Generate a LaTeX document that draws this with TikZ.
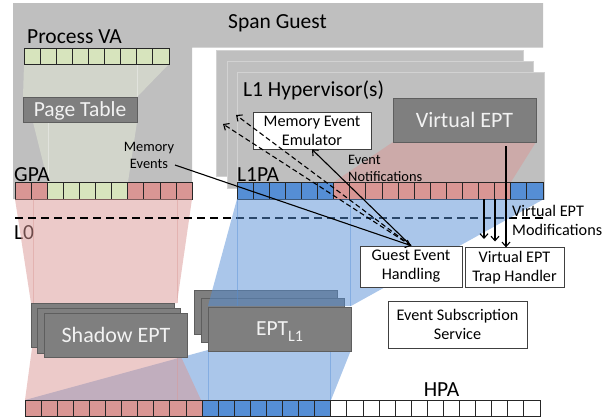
\documentclass[tikz,border=0pt]{standalone}
\usepackage{fontspec}
\setmainfont{Carlito}
\usetikzlibrary{arrows.meta}

\definecolor{guestgray}{HTML}{BFBFBF}
\definecolor{boxgray}{HTML}{7F7F7F}
\definecolor{boxedge}{HTML}{5E5E5E}
\definecolor{hvedge}{HTML}{D2D2D2}
\definecolor{cellred}{HTML}{D99694}
\definecolor{cellblue}{HTML}{558ED5}
\definecolor{cellgreen}{HTML}{D7E4BD}
\definecolor{fanlight}{HTML}{E2E8D6}
\definecolor{lighttxt}{HTML}{F2F2F2}

\tikzset{
  bigfont/.style={font=\fontsize{21.5}{24}\selectfont},
  midfont/.style={font=\fontsize{16.2}{18.8}\selectfont},
  smallfont/.style={font=\fontsize{14.4}{17}\selectfont},
  lbl/.style={bigfont, inner sep=0pt},
  captext/.style={text height=13.8pt, text depth=0pt},
  darkbox/.style={draw=boxedge, line width=0.8pt, fill=boxgray, text=lighttxt,
                  inner sep=0pt, bigfont},
  whitebox/.style={draw=black!75, line width=0.8pt, fill=white, inner sep=0pt,
                   midfont, align=center},
  hvbox/.style={fill=guestgray, draw=hvedge, line width=0.8pt},
  cell/.style={draw=black!85, line width=0.7pt},
  ptfan/.style={fill=fanlight, fill opacity=0.55},
  fanline/.style={draw=white, draw opacity=0.35, line width=0.6pt},
  pinkfan/.style={fill=cellred, fill opacity=0.5},
  bluefan/.style={fill=cellblue, fill opacity=0.5},
  pinkline/.style={draw=cellred, draw opacity=0.45, line width=0.7pt},
  blueline/.style={draw=cellblue, draw opacity=0.45, line width=0.7pt},
  levelline/.style={line width=1.4pt, dash pattern=on 8pt off 5pt},
  arr/.style={line width=1.1pt, -{Straight Barb[length=4.5pt,width=8pt]}},
  dashedarr/.style={arr, dash pattern=on 5pt off 3pt},
}

\begin{document}
\begin{tikzpicture}[x=1pt,y=-1pt]
\useasboundingbox (0,0) rectangle (608,418);

% ---- span guest area ----
\fill[guestgray] (13,3) -- (543,3) -- (543,47.5) -- (192,47.5) -- (192,199)
  -- (13,199) -- cycle;

% ---- stacked L1 hypervisors ----
\draw[hvbox] (216,50) rectangle (523,176);
\draw[hvbox] (227,61) rectangle (533,188);
\draw[hvbox] (237,72) rectangle (544,199);

% ---- page table translation fans ----
\fill[ptfan] (24,64) -- (169,64) -- (137,97) -- (23,97) -- cycle;
\fill[ptfan] (33,122) -- (137,122) -- (128,182) -- (48,182) -- cycle;
\draw[fanline] (137,64) -- (137,97);
\draw[fanline] (48,122) -- (48,182);

% ---- virtual EPT fan onto L1PA ----
\fill[pinkfan] (393,142) -- (536,142) -- (511,182) -- (334,182) -- cycle;

% ---- Process VA cells ----
\foreach \i in {0,...,8}
  \draw[cell, fill=cellgreen] ({24+16.1*\i},48) rectangle ++(16.1,16);

% ---- GPA cells ----
\foreach \i in {0,1,7,8,9,10}
  \draw[cell, fill=cellred] ({15+16.1*\i},182) rectangle ++(16.1,17);
\foreach \i in {2,...,6}
  \draw[cell, fill=cellgreen] ({15+16.1*\i},182) rectangle ++(16.1,17);

% ---- L1PA cells ----
\foreach \i in {0,...,5,17,18}
  \draw[cell, fill=cellblue] ({237+16.1*\i},182) rectangle ++(16.1,17);
\foreach \i in {6,...,16}
  \draw[cell, fill=cellred] ({237+16.1*\i},182) rectangle ++(16.1,17);

% ---- guest-level boxes ----
\node[darkbox, captext, minimum width=114pt, minimum height=25pt] (pt)
  at (80,109.5) {Page Table};
\node[darkbox, captext, minimum width=143pt, minimum height=44pt,
      font=\fontsize{22}{24}\selectfont, text height=14.2pt] (vept)
  at (464.5,120.2) {Virtual EPT};
\node[whitebox, minimum width=118pt, minimum height=37pt] (emu)
  at (312,130.5) {Memory Event\\Emulator};

% ---- level labels ----
\node[lbl, anchor=base] (spanlbl) at (277.5,28.3) {Span Guest};
\node[lbl, anchor=base west] (pvalbl) at (27,43.3) {Process VA};
\node[lbl, anchor=base west] (hvlbl) at (243,96) {L1 Hypervisor(s)};
\node[lbl, anchor=base west] (gpalbl) at (14,181.5) {GPA};
\node[lbl, anchor=base west] (l1palbl) at (237,181) {L1PA};
\node[lbl, anchor=base west] (l0lbl) at (14,239) {L0};
\node[lbl, anchor=base] (hpalbl) at (441.5,396) {HPA};

% ---- GPA -> shadow EPT fan ----
\fill[pinkfan] (15,199) -- (192,199) -- (177,303) -- (31,303) -- cycle;
\draw[pinkline] (33,199) -- (33,303);
\draw[pinkline] (177,199) -- (177,303);

% ---- L0 boundary ----
\draw[levelline] (15,218) -- (544,218);

% ---- EPT_L1 stack (back copies) ----
\node[darkbox, minimum width=143pt, minimum height=44pt] (eptc) at (265.5,312) {};
\node[darkbox, minimum width=143pt, minimum height=44pt] (eptb) at (273,320) {};

% ---- L1PA -> EPT_L1 fan ----
\fill[bluefan] (237,199) -- (544,199) -- (351,306) -- (208,306) -- cycle;
\draw[blueline] (237,199) -- (237,306);
\draw[blueline] (350,199) -- (350,306);

% ---- fans down to HPA ----
\fill[bluefan] (208,350) -- (351,350) -- (331,400) -- (25,400) -- cycle;
\draw[blueline] (208,350) -- (208,400);
\draw[blueline] (330,350) -- (330,400);
\fill[pinkfan] (32,348) -- (177,348) -- (201,400) -- (25,400) -- cycle;
\draw[pinkline] (177,348) -- (177,400);

% ---- shadow EPT stack ----
\node[darkbox, minimum width=143pt, minimum height=44.5pt] (shc) at (102.5,325.5) {};
\node[darkbox, minimum width=143pt, minimum height=44.5pt] (shb) at (108.5,331) {};
\node[darkbox, captext, minimum width=143pt, minimum height=44.5pt,
      font=\fontsize{22}{24}\selectfont] (shept)
  at (116,335.5) {Shadow EPT};

% ---- EPT_L1 front ----
\node[darkbox, captext, minimum width=143pt, minimum height=44pt] (eptl1)
  at (279.5,329) {EPT{\fontsize{16}{18}\selectfont\raisebox{-5.5pt}{L1}}};

% ---- HPA cells ----
\foreach \i in {0,...,10}
  \draw[cell, fill=cellred] ({25+16.09*\i},400) rectangle ++(16.09,16.5);
\foreach \i in {11,...,18}
  \draw[cell, fill=cellblue] ({25+16.09*\i},400) rectangle ++(16.09,16.5);
\foreach \i in {19,...,31}
  \draw[cell, fill=white] ({25+16.09*\i},400) rectangle ++(16.09,16.5);

% ---- L0 services ----
\node[whitebox, minimum width=102pt, minimum height=41pt] (geh)
  at (411,266.5) {Guest Event\\Handling};
\node[whitebox, minimum width=99pt, minimum height=39.5pt] (vth)
  at (514.5,267.5) {Virtual EPT\\Trap Handler};
\node[whitebox, minimum width=139pt, minimum height=47pt] (ess)
  at (457.5,324.5) {Event Subscription\\Service};

% ---- connector labels ----
\node[smallfont, inner sep=0pt, align=center] (melbl) at (149,155) {Memory\\Events};
\node[smallfont, inner sep=0pt, align=left, anchor=west] (enlbl)
  at (348,168.5) {Event\\Notifications};
\node[midfont, inner sep=0pt, align=left, anchor=west] (vemlbl)
  at (512,220.5) {Virtual EPT\\Modifications};

% ---- event flow ----
\coordinate (mestart) at (175,165);
\coordinate (dtip1) at (223,124);
\coordinate (dtip2) at (236,115);
\draw[arr] (mestart) -- (geh.north);
\draw[dashedarr] (geh.north) -- (dtip1);
\draw[dashedarr] (geh.north) -- (dtip2);
\draw[arr] (geh.north) -- (emu.south);

% ---- virtual EPT modifications ----
\coordinate (mod1) at (484,199);
\coordinate (mod1end) at (484,239);
\coordinate (mod2) at (495,199);
\coordinate (mod2end) at (495,241.5);
\coordinate (mod3) at (506,146);
\draw[arr] (mod1) -- (mod1end);
\draw[arr] (mod2) -- (mod2end);
\draw[arr] (mod3) -- (mod3 |- vth.north);
\end{tikzpicture}
\end{document}
